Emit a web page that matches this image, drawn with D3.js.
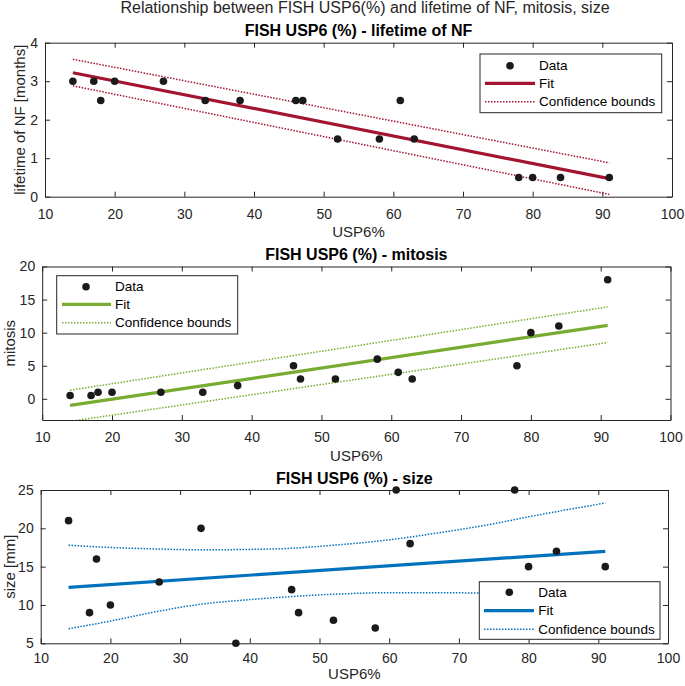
<!DOCTYPE html>
<html><head><meta charset="utf-8">
<script src="https://cdn.jsdelivr.net/npm/d3@7"></script>
<style>
html,body{margin:0;padding:0;background:#fff;}
svg{display:block;font-family:"Liberation Sans",Arial,Helvetica,sans-serif;}
</style></head>
<body>
<svg id="chart" width="685" height="686"></svg>
<script>
// ---------------- DATA ----------------
const usp6     = [14,17,18,20,27,33,38,46,47,52,58,61,63,78,80,84,91];
const lifetime = [3,3,2.5,3,3,2.5,2.5,2.5,2.5,1.5,1.5,2.5,1.5,0.5,0.5,0.5,0.5];
const mitosis  = [0.5,0.5,1,1,1,1,2,5,3,3,6,4,3,5,10,11,18];
const sizeMm   = [21,9,16,10,13,20,5,12,9,8,7,25,18,25,15,17,15];

const fitX = [14, 91];
const lifetimeFit   = [3.22, 0.47];
const lifetimeUpper = [3.57, 0.88];
const lifetimeLower = [2.88, 0.06];

const mitosisFit   = [-1.0, 11.1];
const mitosisUpper = [1.3, 13.9];
const mitosisLower = [-3.4, 8.5];

const sizeFit = [12.3, 17.0];
const sizeBoundX = [14,20,27,33,40,46,52,60,67,75,80,91];
const sizeUpper  = [17.8,17.5,17.3,17.2,17.25,17.4,17.8,18.5,19.4,20.6,21.5,23.3];
const sizeLower  = [6.9,7.9,9.2,10.1,10.7,11.1,11.4,11.6,11.6,11.5,11.3,10.7];

const xTicks = [10,20,30,40,50,60,70,80,90,100];
const lifetimeTicks = [0,1,2,3,4];
const mitosisTicks = [0,5,10,15,20];
const sizeTicks = [5,10,15,20,25];

const mainTitle = "Relationship between FISH USP6(%) and lifetime of NF, mitosis, size";
const panelTitles = ["FISH USP6 (%) - lifetime of NF","FISH USP6 (%) - mitosis","FISH USP6 (%) - size"];
const yLabels = ["lifetime of NF [months]","mitosis","size [mm]"];
const xLabel = "USP6%";
const legendLabels = ["Data","Fit","Confidence bounds"];

// ---------------- LAYOUT / STYLE ----------------
const panels = [
  {L:45,R:672,T:42.7,B:196.7, yDom:[0,4], yTicks:lifetimeTicks, y:lifetime,
   fit:lifetimeFit, bx:fitX, up:lifetimeUpper, lo:lifetimeLower, color:"#A2142F",
   titleY:30.7, yLabX:19, xLabOff:35, tickPad:12,
   leg:{x0:480,x1:661.7,y0:54,y1:112.7,rows:[65.7,83.3,101.7],mx:510,l0:485,l1:535,tx:539}},
  {L:42.2,R:670.5,T:266.5,B:420, yDom:[-3.2,20], yTicks:mitosisTicks, y:mitosis,
   fit:mitosisFit, bx:fitX, up:mitosisUpper, lo:mitosisLower, color:"#77AC30",
   titleY:254, yLabX:9, xLabOff:35, tickPad:12,
   leg:{x0:56.7,x1:237.7,y0:275.7,y1:334,rows:[286.7,304.3,322.7],mx:86,l0:62,l1:111,tx:115}},
  {L:40.7,R:668,T:490,B:643.3, yDom:[5,25], yTicks:sizeTicks, y:sizeMm,
   fit:sizeFit, bx:sizeBoundX, up:sizeUpper, lo:sizeLower, color:"#0072BD",
   titleY:478, yLabX:9, xLabOff:30, tickPad:10,
   leg:{x0:479.3,x1:660,y0:581.7,y1:639.3,rows:[592.3,610.7,629.3],mx:509.3,l0:484,l1:534,tx:538.3}}
];
const axisColor = "#262626";
const tickLen = 5;
const fmt = d => String(d);

const svg = d3.select("#chart");

svg.append("text").attr("x",365).attr("y",7.5)
  .attr("text-anchor","middle").attr("dominant-baseline","central")
  .attr("font-size",16).attr("fill",axisColor).text(mainTitle);

panels.forEach((p,i)=>{
  const x = d3.scaleLinear().domain([10,100]).range([p.L,p.R]);
  const y = d3.scaleLinear().domain(p.yDom).range([p.B,p.T]);
  const g = svg.append("g");
  const clipId = "clip"+i;
  g.append("clipPath").attr("id",clipId).append("rect")
    .attr("x",p.L).attr("y",p.T).attr("width",p.R-p.L).attr("height",p.B-p.T);

  const styleAxis = sel=>{
    sel.selectAll("path.domain").attr("stroke",axisColor).attr("stroke-width",1);
    sel.selectAll(".tick line").attr("stroke",axisColor).attr("stroke-width",1);
    sel.selectAll("text").attr("fill",axisColor).attr("font-size",14)
       .attr("font-family","'Liberation Sans',Arial,sans-serif");
  };
  g.append("g").attr("transform",`translate(0,${p.B})`)
    .call(d3.axisBottom(x).tickValues(xTicks).tickFormat(fmt).tickSizeInner(-tickLen).tickSizeOuter(0).tickPadding(p.tickPad))
    .call(styleAxis);
  g.append("g").attr("transform",`translate(0,${p.T})`)
    .call(d3.axisTop(x).tickValues(xTicks).tickSizeInner(-tickLen).tickSizeOuter(0).tickFormat(""))
    .call(styleAxis);
  g.append("g").attr("transform",`translate(${p.L},0)`)
    .call(d3.axisLeft(y).tickValues(p.yTicks).tickFormat(fmt).tickSizeInner(-tickLen).tickSizeOuter(0).tickPadding(7))
    .call(styleAxis);
  g.append("g").attr("transform",`translate(${p.R},0)`)
    .call(d3.axisRight(y).tickValues(p.yTicks).tickSizeInner(-tickLen).tickSizeOuter(0).tickFormat(""))
    .call(styleAxis);

  const plot = g.append("g").attr("clip-path",`url(#${clipId})`);
  const bline = d3.line().x((d,j)=>x(p.bx[j])).y(d=>y(d)).curve(d3.curveMonotoneX);
  [p.up,p.lo].forEach(arr=>{
    plot.append("path").attr("d",bline(arr)).attr("fill","none")
      .attr("stroke",p.color).attr("stroke-width",1.5).attr("stroke-dasharray","1.5,1.5");
  });
  const fline = d3.line().x((d,j)=>x(fitX[j])).y(d=>y(d));
  plot.append("path").attr("d",fline(p.fit)).attr("fill","none")
    .attr("stroke",p.color).attr("stroke-width",3.2);
  g.selectAll("circle.pt").data(usp6).join("circle").attr("class","pt")
    .attr("cx",d=>x(d)).attr("cy",(d,j)=>y(p.y[j])).attr("r",3.8).attr("fill","#1a1a1a");

  g.append("text").attr("x",(p.L+p.R)/2).attr("y",p.titleY)
    .attr("text-anchor","middle").attr("dominant-baseline","central")
    .attr("font-size",16).attr("font-weight","bold").attr("fill","#000").text(panelTitles[i]);
  g.append("text").attr("x",(p.L+p.R)/2).attr("y",p.B+p.xLabOff)
    .attr("text-anchor","middle").attr("dominant-baseline","central")
    .attr("font-size",15).attr("fill",axisColor).text(xLabel);
  g.append("text").attr("transform",`translate(${p.yLabX},${(p.T+p.B)/2}) rotate(-90)`)
    .attr("text-anchor","middle").attr("dominant-baseline","central")
    .attr("font-size",15).attr("fill",axisColor).text(yLabels[i]);

  const lg = p.leg;
  const L = g.append("g");
  L.append("rect").attr("x",lg.x0).attr("y",lg.y0).attr("width",lg.x1-lg.x0).attr("height",lg.y1-lg.y0)
    .attr("fill","#fff").attr("stroke",axisColor).attr("stroke-width",1);
  L.append("circle").attr("cx",lg.mx).attr("cy",lg.rows[0]).attr("r",3.8).attr("fill","#1a1a1a");
  L.append("line").attr("x1",lg.l0).attr("x2",lg.l1).attr("y1",lg.rows[1]).attr("y2",lg.rows[1])
    .attr("stroke",p.color).attr("stroke-width",3.2);
  L.append("line").attr("x1",lg.l0).attr("x2",lg.l1).attr("y1",lg.rows[2]).attr("y2",lg.rows[2])
    .attr("stroke",p.color).attr("stroke-width",1.5).attr("stroke-dasharray","1.5,1.5");
  legendLabels.forEach((t,k)=>{
    L.append("text").attr("x",lg.tx).attr("y",lg.rows[k]).attr("dominant-baseline","central")
      .attr("font-size",13.5).attr("fill","#000").text(t);
  });
});
</script>
</body></html>
